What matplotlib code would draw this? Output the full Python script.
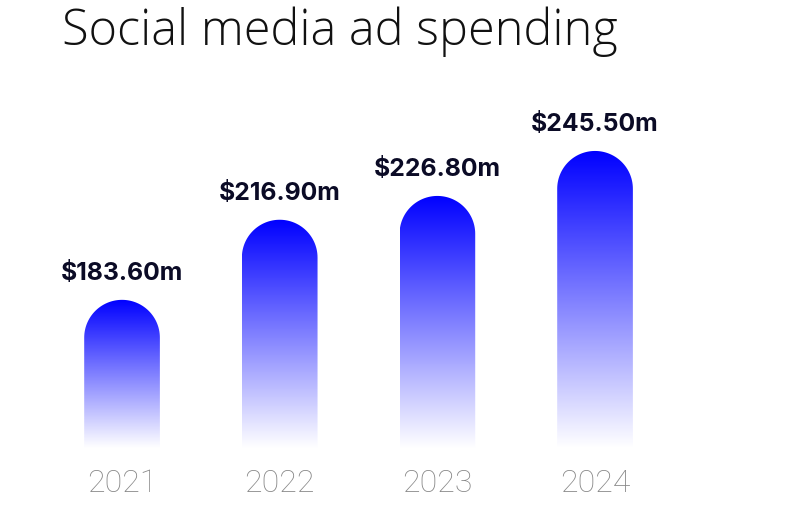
import numpy as np
import matplotlib.pyplot as plt
from matplotlib.colors import LinearSegmentedColormap
from matplotlib.path import Path
from matplotlib.patches import PathPatch

years = ["2021", "2022", "2023", "2024"]
spend = [183.6, 216.9, 226.8, 245.5]  # $m

bar_w = 0.48
y_min, y_max = 122, 275

fig = plt.figure(figsize=(8.06, 5.08), dpi=100)
ax = fig.add_axes([0, 1 - 448 / 508, 1, (448 - 80) / 508])
ax.set_xlim(-0.774, 4.338)
ax.set_ylim(y_min, y_max)

cmap = LinearSegmentedColormap.from_list("fade", ["#ffffff", "#0000ff"])
grad = np.linspace(0, 1, 256).reshape(-1, 1)

# radius of the round cap, same size in pixels on both axes
px_x = ax.bbox.width / (ax.get_xlim()[1] - ax.get_xlim()[0])
px_y = ax.bbox.height / (y_max - y_min)
rx = bar_w / 2
ry = rx * px_x / px_y

theta = np.linspace(0, np.pi, 60)
for i, v in enumerate(spend):
    x0, x1 = i - rx, i + rx
    arc = np.column_stack([i + rx * np.cos(theta), (v - ry) + ry * np.sin(theta)])
    verts = np.vstack([[x0, y_min], [x1, y_min], [x1, v - ry], arc, [x0, y_min]])
    patch = PathPatch(Path(verts), facecolor="none", edgecolor="none")
    ax.add_patch(patch)
    im = ax.imshow(grad, extent=(x0, x1, y_min, v), origin="lower", cmap=cmap,
                   aspect="auto", interpolation="bilinear")
    im.set_clip_path(patch)
    ax.annotate(f"${v:.2f}m", (i, v), xytext=(0, 14.4), textcoords="offset points",
                ha="center", va="baseline", fontsize=17.8, fontweight="bold",
                family="Inter", color="#0b0b26")

ax.set_xlim(-0.774, 4.338)
ax.set_ylim(y_min, y_max)
ax.set_xticks(range(len(years)))
ax.set_xticklabels(years, family="Roboto", fontweight="light", fontsize=23, color="#878787")
ax.tick_params(axis="x", length=0, pad=15)
ax.set_yticks([])
for s in ax.spines.values():
    s.set_visible(False)

fig.text(62 / 806, 1 - 45 / 508, "Social media ad spending", family="Open Sans",
         fontweight="light", fontsize=35, color="#111111", va="baseline")

fig.savefig("out.png", dpi=100)
